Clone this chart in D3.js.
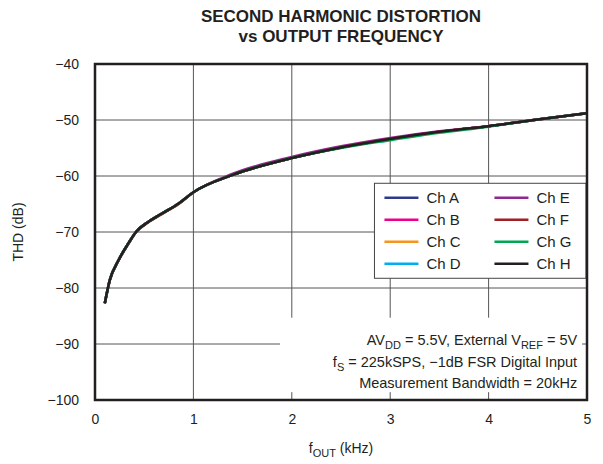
<!DOCTYPE html>
<meta charset="utf-8">
<style>
body { margin: 0; background: #fff; }
svg text { font-family: "Liberation Sans", Arial, sans-serif; fill: #231f20; }
.grid line { stroke: #555; stroke-width: 1px; }
.series path { fill: none; stroke-width: 2.5px; stroke-linejoin: round; }
</style>
<svg width="603" height="464"></svg>
<script src="https://d3js.org/d3.v7.min.js"></script>
<script>
// frequency (kHz) and THD (dB)
var freqs = [0.1, 0.15, 0.24, 0.34, 0.42, 0.54, 0.68, 0.85, 1.0, 1.4, 2.0, 2.5, 3.0, 3.5, 4.0, 4.5, 5.0];
var chA = [-82.7, -78.6, -75.0, -72.0, -69.9, -68.2, -66.7, -64.9, -62.9, -59.8, -56.8, -54.9, -53.4, -52.1, -51.1, -49.9, -48.8];
var chB = [-82.7, -78.6, -75.0, -72.0, -69.9, -68.2, -66.7, -64.9, -62.9, -59.8, -56.8, -54.9, -53.4, -52.1, -51.1, -49.9, -48.8];
var chC = [-82.7, -78.6, -75.0, -72.0, -69.9, -68.2, -66.7, -64.9, -62.9, -59.8, -56.8, -54.9, -53.4, -52.1, -51.1, -49.9, -48.8];
var chD = [-82.7, -78.6, -75.0, -72.0, -69.9, -68.2, -66.7, -64.9, -62.9, -59.8, -56.8, -54.9, -53.4, -52.1, -51.1, -49.9, -48.8];
var chE = [-82.7, -78.6, -75.0, -72.0, -69.9, -68.2, -66.7, -64.9, -62.9, -59.6, -56.6, -54.7, -53.2, -52.0, -51.1, -49.9, -48.8];
var chF = [-82.8, -78.7, -75.1, -72.1, -70.0, -68.3, -66.8, -65.0, -62.9, -59.8, -56.8, -54.9, -53.4, -52.1, -51.1, -49.9, -48.8];
var chG = [-82.7, -78.6, -75.0, -72.0, -69.9, -68.2, -66.7, -64.9, -62.9, -59.8, -56.8, -55.0, -53.6, -52.3, -51.2, -49.9, -48.8];
var chH = [-82.7, -78.6, -75.0, -72.0, -69.9, -68.2, -66.7, -64.9, -62.9, -59.8, -56.8, -54.9, -53.4, -52.1, -51.1, -49.9, -48.8];

var names = ["Ch A", "Ch B", "Ch C", "Ch D", "Ch E", "Ch F", "Ch G", "Ch H"];
var colors = ["#2e3a8c", "#ec008c", "#f7941d", "#00aeef", "#92278f", "#9e1f24", "#00a651", "#231f20"];
var values = [chA, chB, chC, chD, chE, chF, chG, chH];

var xTicks = [0, 1, 2, 3, 4, 5];
var yTicks = [-40, -50, -60, -70, -80, -90, -100];

var svg = d3.select("svg");
var margin = {left: 95, right: 16, top: 64, bottom: 64};
var width = 603 - margin.left - margin.right,
    height = 464 - margin.top - margin.bottom;

var x = d3.scaleLinear().domain([0, 5]).range([0, width]);
var y = d3.scaleLinear().domain([-100, -40]).range([height, 0]);

var g = svg.append("g").attr("transform", "translate(" + margin.left + "," + margin.top + ")");

// grid
var grid = g.append("g").attr("class", "grid");
grid.selectAll(".v").data(xTicks.slice(1, -1)).enter().append("line")
    .attr("x1", function(d) { return x(d); }).attr("x2", function(d) { return x(d); })
    .attr("y1", 0).attr("y2", height);
grid.selectAll(".h").data(yTicks.slice(1, -1)).enter().append("line")
    .attr("x1", 0).attr("x2", width)
    .attr("y1", function(d) { return y(d); }).attr("y2", function(d) { return y(d); });

// tick labels via axes
var xAxis = g.append("g").attr("transform", "translate(0," + height + ")")
    .call(d3.axisBottom(x).tickValues(xTicks).tickSize(0).tickPadding(14).tickFormat(d3.format("d")));
var yAxis = g.append("g")
    .call(d3.axisLeft(y).tickValues(yTicks).tickSize(0).tickPadding(16)
      .tickFormat(function(d) { return d < 0 ? "\u2212" + Math.abs(d) : d; }));
[xAxis, yAxis].forEach(function(a) {
  a.select(".domain").remove();
  a.selectAll("text").style("font-size", "14px").attr("fill", "#231f20");
});

// curves
var line = d3.line().curve(d3.curveMonotoneX)
    .x(function(d, i) { return x(freqs[i]); })
    .y(function(d) { return y(d); });
g.append("g").attr("class", "series").selectAll("path")
    .data(values).enter().append("path")
    .attr("stroke", function(d, i) { return colors[i]; })
    .attr("d", line);

// legend
var leg = g.append("g").attr("transform", "translate(" + (x(2.84)) + "," + (y(-61.3)) + ")");
leg.append("rect").attr("width", x(5) - x(2.84) - 1).attr("height", 95)
    .attr("fill", "#fff").attr("stroke", "#444").attr("stroke-width", 1);
names.forEach(function(n, i) {
  var col = Math.floor(i / 4), row = i % 4;
  var item = leg.append("g").attr("transform", "translate(" + (10 + col * 110) + "," + (14.5 + row * 22) + ")");
  item.append("line").attr("x1", 0).attr("x2", 34).attr("y1", 0).attr("y2", 0)
      .attr("stroke", colors[i]).attr("stroke-width", 2.5);
  item.append("text").attr("x", 42).attr("y", 5.5).style("font-size", "15px").text(n);
});

// annotation box
var ann = g.append("g");
ann.append("rect").attr("x", x(1.88)).attr("y", y(-85.3)).attr("width", x(4.95) - x(1.88))
    .attr("height", y(-98.6) - y(-85.3)).attr("fill", "#fff");
var annLines = [
  [["AV", 0], ["DD", 1], [" = 5.5V, External V", 0], ["REF", 1], [" = 5V", 0]],
  [["f", 0], ["S", 1], [" = 225kSPS, \u22121dB FSR Digital Input", 0]],
  [["Measurement Bandwidth = 20kHz", 0]]
];
annLines.forEach(function(parts, i) {
  var t = ann.append("text").attr("x", x(4.9)).attr("y", y(-90.2) + i * 21.5)
      .attr("text-anchor", "end").style("font-size", "14.5px");
  parts.forEach(function(p) {
    var s = t.append("tspan").text(p[0]);
    if (p[1]) s.attr("dy", 4).style("font-size", "11px");
    else if (t.selectAll("tspan").size() > 1) s.attr("dy", -4);
  });
});

// frame
g.append("rect").attr("width", width).attr("height", height)
    .attr("fill", "none").attr("stroke", "#231f20").attr("stroke-width", 2.5);

// titles
svg.append("text").attr("x", margin.left + width / 2).attr("y", 22).attr("text-anchor", "middle")
    .style("font-size", "17px").style("font-weight", "bold").text("SECOND HARMONIC DISTORTION");
svg.append("text").attr("x", margin.left + width / 2).attr("y", 42).attr("text-anchor", "middle")
    .style("font-size", "17px").style("font-weight", "bold").text("vs OUTPUT FREQUENCY");

svg.append("text").attr("transform", "translate(23," + (margin.top + height / 2) + ") rotate(-90)")
    .attr("text-anchor", "middle").style("font-size", "14px").text("THD (dB)");

var xl = svg.append("text").attr("x", margin.left + width / 2).attr("y", 453)
    .attr("text-anchor", "middle").style("font-size", "14px");
xl.append("tspan").text("f");
xl.append("tspan").attr("dy", 4).style("font-size", "11px").text("OUT");
xl.append("tspan").attr("dy", -4).text(" (kHz)");
</script>
